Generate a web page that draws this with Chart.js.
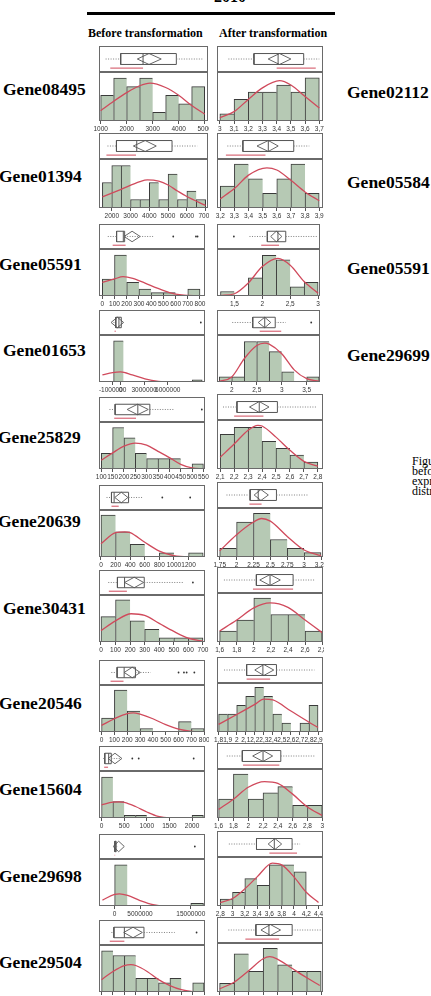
<!DOCTYPE html>
<html>
<head>
<meta charset="utf-8">
<script src="https://cdn.jsdelivr.net/npm/chart.js@4.4.1/dist/chart.umd.min.js"></script>
<style>
  html, body { margin: 0; padding: 0; background: #fff; }
  body { width: 431px; height: 996px; position: relative; overflow: hidden; font-family: "Liberation Serif", serif; color: #000; }
  .lbl { position: absolute; white-space: nowrap; font-weight: bold; }
  .gene { font-size: 17.5px; line-height: 20px; }
  .head { font-size: 12px; line-height: 14px; }
  .cap { position: absolute; left: 412px; top: 456px; font-size: 12px; line-height: 10px; white-space: nowrap; }
  canvas { position: absolute; }
</style>
</head>
<body>
<div class="lbl" style="left:214px; top:-11px; font-size:16px; line-height:16px;">2010</div>
<div style="position:absolute; left:87px; top:12px; width:248px; height:3px; background:#000;"></div>
<div class="lbl head" style="left:88px; top:26px;">Before transformation</div>
<div class="lbl head" style="left:219px; top:26px;">After transformation</div>

<div class="lbl gene" style="left:3px; top:79px;">Gene08495</div>
<div class="lbl gene" style="left:-1px; top:166px;">Gene01394</div>
<div class="lbl gene" style="left:-1px; top:254px;">Gene05591</div>
<div class="lbl gene" style="left:3px; top:340px;">Gene01653</div>
<div class="lbl gene" style="left:-2px; top:427px;">Gene25829</div>
<div class="lbl gene" style="left:-2px; top:511px;">Gene20639</div>
<div class="lbl gene" style="left:3px; top:598px;">Gene30431</div>
<div class="lbl gene" style="left:-1px; top:693px;">Gene20546</div>
<div class="lbl gene" style="left:-1px; top:779px;">Gene15604</div>
<div class="lbl gene" style="left:-1px; top:866px;">Gene29698</div>
<div class="lbl gene" style="left:-1px; top:952px;">Gene29504</div>

<div class="lbl gene" style="left:347px; top:82px;">Gene02112</div>
<div class="lbl gene" style="left:347px; top:172px;">Gene05584</div>
<div class="lbl gene" style="left:347px; top:258px;">Gene05591</div>
<div class="lbl gene" style="left:347px; top:345px;">Gene29699</div>

<div class="cap">Figure<br>before<br>expression<br>distribution</div>

<script>
// ---- data: one block per histogram (b = before, a = after transformation) ----
// Bins = [first edge, bin width]; Box = [whisker lo, q1, median, q3, whisker hi]
// Mean = mean diamond [lo, mean, hi]; Half = shortest half; Axis = [x min, x max, y max]

const r01bBins = [1000, 500];
const r01bCounts = [3, 5, 4, 5, 1, 3, 2, 4];
const r01bCurveX = [1000, 1500, 2000, 2500, 2900, 3500, 4000, 4500, 5000];
const r01bCurveY = [1.2, 2.3, 3.3, 4.1, 4.4, 3.9, 3.0, 1.8, 0.8];
const r01bBox = [1190, 1770, 2630, 3910, 4940];
const r01bMean = [2410, 2860, 3330];
const r01bHalf = [1370, 2630];
const r01bOut = [];
const r01bAxis = [936, 5128, 5.7];
const r01bTicks = [1000, 2000, 3000, 4000, 5000];

const r01aBins = [3.0, 0.1];
const r01aCounts = [1, 3, 4, 4, 5, 4, 6];
const r01aCurveX = [3.0, 3.1, 3.2, 3.3, 3.42, 3.5, 3.6, 3.7];
const r01aCurveY = [0.45, 1.3, 3.0, 4.6, 5.6, 5.0, 3.4, 1.8];
const r01aBox = [3.06, 3.24, 3.41, 3.59, 3.70];
const r01aMean = [3.34, 3.42, 3.50];
const r01aHalf = [3.40, 3.675];
const r01aOut = [];
const r01aAxis = [2.98, 3.726, 6.8];
const r01aTicks = [3, 3.1, 3.2, 3.3, 3.4, 3.5, 3.6, 3.7];

const r02bBins = [1500, 500];
const r02bCounts = [3, 5, 5, 1, 1, 3, 1, 4, 1, 2, 1];
const r02bCurveX = [1500, 2500, 3500, 3900, 4500, 5000, 5500, 6000, 7000];
const r02bCurveY = [1.3, 2.2, 3.1, 3.3, 3.15, 2.7, 2.0, 1.35, 0.3];
const r02bBox = [1770, 2250, 3330, 5210, 6550];
const r02bMean = [3150, 3780, 4370];
const r02bHalf = [1715, 3290];
const r02bOut = [];
const r02bAxis = [1320, 7125, 5.76];
const r02bTicks = [2000, 3000, 4000, 5000, 6000, 7000];

const r02aBins = [3.2, 0.1];
const r02aCounts = [3, 6, 4, 2, 4, 6, 2];
const r02aCurveX = [3.2, 3.3, 3.4, 3.53, 3.6, 3.7, 3.8, 3.9];
const r02aCurveY = [1.25, 2.65, 4.5, 5.5, 5.2, 3.8, 2.2, 1.0];
const r02aBox = [3.25, 3.36, 3.54, 3.72, 3.83];
const r02aMean = [3.46, 3.54, 3.61];
const r02aHalf = [3.24, 3.52];
const r02aOut = [];
const r02aAxis = [3.177, 3.927, 6.7];
const r02aTicks = [3.2, 3.3, 3.4, 3.5, 3.6, 3.7, 3.8, 3.9];

const r03bBins = [0, 100];
const r03bCounts = [5, 12, 4, 2, 1, 1, 0, 2];
const r03bCurveX = [0, 100, 170, 250, 350, 450, 550, 650, 800];
const r03bCurveY = [4.0, 5.0, 5.7, 5.2, 3.8, 2.3, 1.0, 0.3, 0.05];
const r03bBox = [45, 117, 172, 183, 416];
const r03bMean = [178, 244, 310];
const r03bHalf = [85, 191];
const r03bOut = [581, 767, 780];
const r03bAxis = [-27, 841, 13.8];
const r03bTicks = [0, 100, 200, 300, 400, 500, 600, 700, 800];

const r03aBins = [1.25, 0.25];
const r03aCounts = [1, 0, 4, 9, 8, 2, 3];
const r03aCurveX = [1.25, 1.5, 1.75, 2.0, 2.28, 2.5, 2.75, 3.0];
const r03aCurveY = [0.1, 0.5, 2.9, 6.5, 8.3, 6.8, 3.2, 0.6];
const r03aBox = [1.77, 2.09, 2.28, 2.42, 3.0];
const r03aMean = [2.15, 2.25, 2.35];
const r03aHalf = [1.98, 2.30];
const r03aOut = [1.49];
const r03aAxis = [1.1875, 3.034, 10.4];
const r03aTicks = [1.5, 2, 2.5, 3];

const r04bBins = [-875000, 1250000];
const r04bCounts = [18, 0, 0, 0, 0, 0, 0, 0, 1];
const r04bCurveX = [-2300000, -1000000, 0, 1500000, 3100000, 4800000, 6400000, 10400000];
const r04bCurveY = [3.1, 4.1, 4.4, 3.1, 1.4, 0.3, 0.03, 0];
const r04bBox = [-900000, -600000, -200000, 100000, 300000];
const r04bMean = [-1200000, -400000, 400000];
const r04bHalf = [-750000, -600000];
const r04bOut = [10200000];
const r04bAxis = [-2730000, 10730000, 20.6];
const r04bTicks = [-1000000, 0, 3000000, 6000000];

const r04aBins = [1.75, 0.25];
const r04aCounts = [1, 1, 8, 8, 6, 2, 0, 1];
const r04aCurveX = [1.75, 2.0, 2.25, 2.5, 2.66, 2.75, 3.0, 3.25, 3.5, 3.75];
const r04aCurveY = [0.13, 1.0, 4.6, 7.2, 7.7, 7.5, 5.6, 2.4, 0.65, 0.13];
const r04aBox = [2.01, 2.42, 2.66, 2.87, 3.08];
const r04aMean = [2.53, 2.66, 2.78];
const r04aHalf = [2.56, 2.99];
const r04aOut = [3.59];
const r04aAxis = [1.705, 3.766, 9.3];
const r04aTicks = [2, 2.5, 3, 3.5];

const r05bBins = [100, 50];
const r05bCounts = [3, 8, 6, 3, 2, 2, 2, 0, 1];
const r05bCurveX = [100, 150, 200, 250, 300, 350, 400, 450, 500, 550];
const r05bCurveY = [1.7, 3.1, 4.4, 5.0, 4.6, 3.4, 2.2, 0.9, 0.2, 0];
const r05bBox = [136, 161, 261, 314, 421];
const r05bMean = [214, 260, 307];
const r05bHalf = [157, 253];
const r05bOut = [543];
const r05bAxis = [90, 557, 9.06];
const r05bTicks = [100, 150, 200, 250, 300, 350, 400, 450, 500, 550];

const r05aBins = [2.1, 0.1];
const r05aCounts = [5, 6, 6, 4, 3, 2, 1];
const r05aCurveX = [2.1, 2.2, 2.3, 2.37, 2.4, 2.5, 2.6, 2.7, 2.8];
const r05aCurveY = [1.7, 3.6, 5.6, 6.3, 6.2, 4.6, 2.7, 1.1, 0.4];
const r05aBox = [2.12, 2.22, 2.38, 2.51, 2.79];
const r05aMean = [2.31, 2.38, 2.45];
const r05aHalf = [2.20, 2.41];
const r05aOut = [];
const r05aAxis = [2.077, 2.837, 7.07];
const r05aTicks = [2.1, 2.2, 2.3, 2.4, 2.5, 2.6, 2.7, 2.8];

const r06bBins = [0, 200];
const r06bCounts = [10, 6, 3, 0, 1, 0, 1];
const r06bCurveX = [0, 200, 325, 400, 600, 800, 1000, 1200, 1400];
const r06bCurveY = [3.15, 5.8, 6.0, 5.8, 3.5, 1.4, 0.3, 0.02, 0];
const r06bBox = [76, 144, 180, 378, 571];
const r06bMean = [189, 279, 369];
const r06bHalf = [144, 243];
const r06bOut = [840, 1222];
const r06bAxis = [-27, 1425, 11.2];
const r06bTicks = [0, 200, 400, 600, 800, 1000, 1200];

const r06aBins = [1.75, 0.25];
const r06aCounts = [2, 8, 10, 4, 2, 1];
const r06aCurveX = [1.75, 2.0, 2.25, 2.37, 2.5, 2.75, 3.0, 3.25];
const r06aCurveY = [1.4, 5.1, 8.0, 8.8, 8.2, 4.7, 1.6, 0.3];
const r06aBox = [1.85, 2.20, 2.32, 2.59, 3.07];
const r06aMean = [2.26, 2.36, 2.47];
const r06aHalf = [2.19, 2.37];
const r06aOut = [];
const r06aAxis = [1.71, 3.279, 11.2];
const r06aTicks = [1.75, 2, 2.25, 2.5, 2.75, 3, 3.25];

const r07bBins = [0, 100];
const r07bCounts = [6, 10, 5, 3, 1, 1, 1];
const r07bCurveX = [0, 100, 207, 300, 400, 500, 600, 700];
const r07bCurveY = [2.7, 5.0, 6.7, 6.3, 4.4, 2.5, 0.9, 0.15];
const r07bBox = [50, 113, 162, 297, 567];
const r07bMean = [162, 228, 293];
const r07bHalf = [54, 178];
const r07bOut = [631];
const r07bAxis = [-13.5, 714, 11.15];
const r07bTicks = [0, 100, 200, 300, 400, 500, 600, 700];

const r07aBins = [1.6, 0.2];
const r07aCounts = [2, 4, 8, 5, 5, 2];
const r07aCurveX = [1.6, 1.8, 2.0, 2.19, 2.4, 2.6, 2.8];
const r07aCurveY = [2.0, 4.0, 6.2, 7.1, 6.3, 4.0, 1.7];
const r07aBox = [1.65, 2.03, 2.19, 2.46, 2.72];
const r07aMean = [2.07, 2.19, 2.31];
const r07aHalf = [1.99, 2.46];
const r07aOut = [];
const r07aAxis = [1.569, 2.81, 8.9];
const r07aTicks = [1.6, 1.8, 2, 2.2, 2.4, 2.6, 2.8];

const r08bBins = [0, 100];
const r08bCounts = [4, 12, 6, 1, 0, 0, 3, 1];
const r08bCurveX = [0, 100, 200, 247, 300, 400, 500, 600, 700, 800];
const r08bCurveY = [1.9, 3.8, 5.3, 5.5, 5.1, 3.8, 2.1, 0.8, 0.2, 0];
const r08bBox = [76, 121, 176, 264, 383];
const r08bMean = [176, 239, 302];
const r08bHalf = [70, 171];
const r08bOut = [600, 642, 663, 723];
const r08bAxis = [-20, 806, 13.5];
const r08bTicks = [0, 100, 200, 300, 400, 500, 600, 700, 800];

const r08aBins = [1.8, 0.1];
const r08aCounts = [2, 2, 3, 4, 5, 4, 2, 1, 0, 1, 3];
const r08aCurveX = [1.8, 2.0, 2.2, 2.3, 2.4, 2.6, 2.8, 2.9];
const r08aCurveY = [0.86, 1.96, 3.1, 3.7, 3.6, 2.35, 1.1, 0.5];
const r08aBox = [1.86, 2.11, 2.29, 2.44, 2.86];
const r08aMean = [2.20, 2.30, 2.41];
const r08aHalf = [2.11, 2.37];
const r08aOut = [];
const r08aAxis = [1.782, 2.955, 5.5];
const r08aTicks = [1.8, 1.9, 2, 2.1, 2.2, 2.3, 2.4, 2.5, 2.6, 2.7, 2.8, 2.9];

const r09bBins = [0, 250];
const r09bCounts = [15, 6, 1, 1, 0, 0, 0, 0, 1];
const r09bCurveX = [0, 250, 390, 500, 750, 1000, 1250, 1500, 2250];
const r09bCurveY = [4.8, 5.8, 5.9, 5.7, 4.2, 2.2, 0.6, 0.05, 0];
const r09bBox = [36, 71, 157, 214, 428];
const r09bMean = [143, 296, 450];
const r09bHalf = [57, 143];
const r09bOut = [679, 821, 2036];
const r09bAxis = [-57, 2286, 17.2];
const r09bTicks = [0, 500, 1000, 1500, 2000];

const r09aBins = [1.6, 0.2];
const r09aCounts = [3, 7, 3, 4, 5, 2, 2];
const r09aCurveX = [1.6, 1.8, 2.0, 2.22, 2.4, 2.6, 2.8, 3.0];
const r09aCurveY = [1.37, 3.0, 4.9, 5.8, 5.5, 3.8, 1.75, 0.4];
const r09aBox = [1.71, 1.92, 2.20, 2.44, 2.90];
const r09aMean = [2.06, 2.20, 2.33];
const r09aHalf = [1.93, 2.42];
const r09aOut = [];
const r09aAxis = [1.578, 3.01, 7.8];
const r09aTicks = [1.6, 1.8, 2, 2.2, 2.4, 2.6, 2.8, 3];

const r10bBins = [0, 2500000];
const r10bCounts = [16, 0, 0, 0, 0, 0, 1];
const r10bCurveX = [-2400000, 0, 960000, 2560000, 4900000, 7560000, 9900000, 17500000];
const r10bCurveY = [2.3, 4.5, 4.7, 4.1, 2.2, 0.5, 0, 0];
const r10bBox = [0, 50000, 100000, 300000, 600000];
const r10bMean = [-300000, 800000, 1900000];
const r10bHalf = [0, 100000];
const r10bOut = [15800000];
const r10bAxis = [-3080000, 17800000, 18.3];
const r10bTicks = [0, 5000000, 15000000];

const r10aBins = [2.8, 0.2];
const r10aCounts = [1, 2, 4, 3, 6, 6, 5];
const r10aCurveX = [2.8, 3.0, 3.2, 3.4, 3.65, 3.8, 4.0, 4.2, 4.4];
const r10aCurveY = [0.5, 1.1, 2.5, 4.25, 6.25, 6.0, 4.25, 2.0, 0.5];
const r10aBox = [2.94, 3.39, 3.68, 3.97, 4.10];
const r10aMean = [3.58, 3.69, 3.80];
const r10aHalf = [3.60, 4.05];
const r10aOut = [];
const r10aAxis = [2.747, 4.473, 7.15];
const r10aTicks = [2.8, 3, 3.2, 3.4, 3.6, 3.8, 4, 4.2, 4.4];

const r11bBins = [0, 50];
const r11bCounts = [9, 8, 8, 3, 3, 2, 3, 0, 2];
const r11bCurveX = [0, 50, 100, 129, 150, 200, 250, 300, 350, 400, 447];
const r11bCurveY = [2.7, 4.5, 5.8, 6.0, 5.8, 4.5, 2.7, 1.4, 0.5, 0.1, 0];
const r11bBox = [43, 54, 100, 186, 321];
const r11bMean = [97, 138, 179];
const r11bHalf = [36, 100];
const r11bOut = [417];
const r11bAxis = [-11.4, 454, 10.3];
const r11bTicks = [0, 50, 100, 150, 200, 250, 300, 350, 400, 450];

const r11aBins = [1.6, 0.2];
const r11aCounts = [1.6, 7, 3.8, 8, 5, 3.8, 3.8];
const r11aCurveX = [1.6, 1.8, 2.0, 2.2, 2.29, 2.39, 2.58, 2.79, 2.98];
const r11aCurveY = [0.6, 1.8, 3.9, 6.1, 6.5, 6.1, 4.5, 2.7, 1.2];
const r11aBox = [1.72, 2.10, 2.28, 2.60, 3.02];
const r11aMean = [2.17, 2.30, 2.44];
const r11aHalf = [1.955, 2.42];
const r11aOut = [];
const r11aAxis = [1.564, 3.025, 9.0];
const r11aTicks = [1.6, 1.8, 2, 2.2, 2.4, 2.6, 2.8, 3];

// ---- layout ----
const rowTops = [46, 133, 221, 307, 394, 482, 567, 657, 743, 831, 917];
const RED = "#d04a5c";
const PAD_L = 6; // room for the first tick label left of the frame

const fmt = (v) => Math.abs(v) >= 1000 ? String(Math.round(v)) : String(+v.toFixed(2)).replace(".", ",");

// outer frames of the box-plot strip and of the histogram
const framePlugin = {
    id: "frame",
    afterDraw(chart) {
        const { ctx, chartArea: a, scales } = chart;
        ctx.save();
        ctx.strokeStyle = "#6a6a6a";
        ctx.lineWidth = 1;
        [scales.yb, scales.y].forEach((s) => {
            ctx.strokeRect(Math.round(a.left) + 0.5, Math.round(s.top) + 0.5,
                Math.round(a.right - a.left) - 1, Math.round(s.bottom - s.top) - 1);
        });
        ctx.restore();
    },
};

function makePanel(col, row, bins, counts, curveX, curveY, box, mean, half, out, axis, ticks) {
    const fl = col ? 217 : 99;
    const fw = col ? 106 : 109;
    const cv = document.createElement("canvas");
    cv.width = fw + PAD_L + 1;
    cv.height = 90;
    cv.style.left = (fl - PAD_L) + "px";
    cv.style.top = (rowTops[row] - 1) + "px";
    document.body.appendChild(cv);

    const n = counts.length;
    const hist = counts.map((c, i) => ({ x: bins[0] + bins[1] * (i + 0.5), y: c }));
    const curve = curveX.map((x, i) => ({ x: x, y: curveY[i] }));
    const [wlo, q1, med, q3, whi] = box;
    const lo = 0.29, hi = 0.71, mid = 0.5;
    const strip = (data, color, extra) => Object.assign({
        type: "line", yAxisID: "yb", data: data, borderColor: color, borderWidth: 1,
        pointRadius: 0, tension: 0, spanGaps: false, order: 0,
    }, extra || {});

    new Chart(cv, {
        type: "bar",
        data: {
            datasets: [
                {
                    type: "bar", yAxisID: "y", data: hist, order: 2,
                    backgroundColor: "#b6c9b4", borderColor: "#3a3a3a",
                    borderWidth: (ctx) => ({ top: 1, left: 1, bottom: 0, right: ctx.dataIndex === n - 1 ? 1 : 0 }),
                    borderSkipped: false, barThickness: "flex", categoryPercentage: 1, barPercentage: 1,
                },
                {
                    type: "line", yAxisID: "y", data: curve, order: 1,
                    borderColor: RED, borderWidth: 1.3, pointRadius: 0, cubicInterpolationMode: "monotone",
                },
                strip([{ x: wlo, y: mid }, { x: q1, y: mid }, { x: q3, y: null }, { x: q3, y: mid }, { x: whi, y: mid }], "#808080", { borderDash: [1, 1.5] }),
                strip([{ x: q1, y: lo }, { x: q3, y: lo }, { x: q3, y: hi }, { x: q1, y: hi }, { x: q1, y: lo }], "#555"),
                strip([{ x: med, y: lo }, { x: med, y: hi }], "#555"),
                strip([{ x: mean[0], y: mid }, { x: mean[1], y: hi }, { x: mean[2], y: mid }, { x: mean[1], y: lo }, { x: mean[0], y: mid }], "#666"),
                strip([{ x: half[0], y: 0.15 }, { x: half[1], y: 0.15 }], RED),
                {
                    type: "scatter", yAxisID: "yb", order: 0,
                    data: out.map((x) => ({ x: x, y: mid })),
                    pointRadius: 0.9, backgroundColor: "#333", borderWidth: 0,
                },
            ],
        },
        options: {
            responsive: false,
            animation: false,
            events: [],
            layout: { padding: { top: 1, left: PAD_L, right: 1, bottom: 0 } },
            plugins: { legend: { display: false }, tooltip: { enabled: false } },
            scales: {
                x: {
                    type: "linear", min: axis[0], max: axis[1], offset: false,
                    afterBuildTicks: (s) => { s.ticks = ticks.map((v) => ({ value: v })); },
                    afterFit: (s) => { s.height = 14; s.paddingLeft = 0; s.paddingRight = 0; },
                    grid: { display: true, drawOnChartArea: false, drawTicks: true, tickLength: 3, color: "#555", offset: false },
                    border: { display: false },
                    ticks: {
                        autoSkip: false, maxRotation: 0, minRotation: 0, padding: 1, color: "#333",
                        font: { family: "Liberation Sans", size: 6.5 },
                        callback: (v) => fmt(v),
                    },
                },
                y: { display: false, min: 0, max: axis[2], stack: "p", stackWeight: 49, weight: 0 },
                yb: { display: false, min: 0, max: 1, stack: "p", stackWeight: 26, weight: 1 },
            },
        },
        plugins: [framePlugin],
    });
}

makePanel(0, 0, r01bBins, r01bCounts, r01bCurveX, r01bCurveY, r01bBox, r01bMean, r01bHalf, r01bOut, r01bAxis, r01bTicks);
makePanel(1, 0, r01aBins, r01aCounts, r01aCurveX, r01aCurveY, r01aBox, r01aMean, r01aHalf, r01aOut, r01aAxis, r01aTicks);
makePanel(0, 1, r02bBins, r02bCounts, r02bCurveX, r02bCurveY, r02bBox, r02bMean, r02bHalf, r02bOut, r02bAxis, r02bTicks);
makePanel(1, 1, r02aBins, r02aCounts, r02aCurveX, r02aCurveY, r02aBox, r02aMean, r02aHalf, r02aOut, r02aAxis, r02aTicks);
makePanel(0, 2, r03bBins, r03bCounts, r03bCurveX, r03bCurveY, r03bBox, r03bMean, r03bHalf, r03bOut, r03bAxis, r03bTicks);
makePanel(1, 2, r03aBins, r03aCounts, r03aCurveX, r03aCurveY, r03aBox, r03aMean, r03aHalf, r03aOut, r03aAxis, r03aTicks);
makePanel(0, 3, r04bBins, r04bCounts, r04bCurveX, r04bCurveY, r04bBox, r04bMean, r04bHalf, r04bOut, r04bAxis, r04bTicks);
makePanel(1, 3, r04aBins, r04aCounts, r04aCurveX, r04aCurveY, r04aBox, r04aMean, r04aHalf, r04aOut, r04aAxis, r04aTicks);
makePanel(0, 4, r05bBins, r05bCounts, r05bCurveX, r05bCurveY, r05bBox, r05bMean, r05bHalf, r05bOut, r05bAxis, r05bTicks);
makePanel(1, 4, r05aBins, r05aCounts, r05aCurveX, r05aCurveY, r05aBox, r05aMean, r05aHalf, r05aOut, r05aAxis, r05aTicks);
makePanel(0, 5, r06bBins, r06bCounts, r06bCurveX, r06bCurveY, r06bBox, r06bMean, r06bHalf, r06bOut, r06bAxis, r06bTicks);
makePanel(1, 5, r06aBins, r06aCounts, r06aCurveX, r06aCurveY, r06aBox, r06aMean, r06aHalf, r06aOut, r06aAxis, r06aTicks);
makePanel(0, 6, r07bBins, r07bCounts, r07bCurveX, r07bCurveY, r07bBox, r07bMean, r07bHalf, r07bOut, r07bAxis, r07bTicks);
makePanel(1, 6, r07aBins, r07aCounts, r07aCurveX, r07aCurveY, r07aBox, r07aMean, r07aHalf, r07aOut, r07aAxis, r07aTicks);
makePanel(0, 7, r08bBins, r08bCounts, r08bCurveX, r08bCurveY, r08bBox, r08bMean, r08bHalf, r08bOut, r08bAxis, r08bTicks);
makePanel(1, 7, r08aBins, r08aCounts, r08aCurveX, r08aCurveY, r08aBox, r08aMean, r08aHalf, r08aOut, r08aAxis, r08aTicks);
makePanel(0, 8, r09bBins, r09bCounts, r09bCurveX, r09bCurveY, r09bBox, r09bMean, r09bHalf, r09bOut, r09bAxis, r09bTicks);
makePanel(1, 8, r09aBins, r09aCounts, r09aCurveX, r09aCurveY, r09aBox, r09aMean, r09aHalf, r09aOut, r09aAxis, r09aTicks);
makePanel(0, 9, r10bBins, r10bCounts, r10bCurveX, r10bCurveY, r10bBox, r10bMean, r10bHalf, r10bOut, r10bAxis, r10bTicks);
makePanel(1, 9, r10aBins, r10aCounts, r10aCurveX, r10aCurveY, r10aBox, r10aMean, r10aHalf, r10aOut, r10aAxis, r10aTicks);
makePanel(0, 10, r11bBins, r11bCounts, r11bCurveX, r11bCurveY, r11bBox, r11bMean, r11bHalf, r11bOut, r11bAxis, r11bTicks);
makePanel(1, 10, r11aBins, r11aCounts, r11aCurveX, r11aCurveY, r11aBox, r11aMean, r11aHalf, r11aOut, r11aAxis, r11aTicks);
</script>
</body>
</html>
